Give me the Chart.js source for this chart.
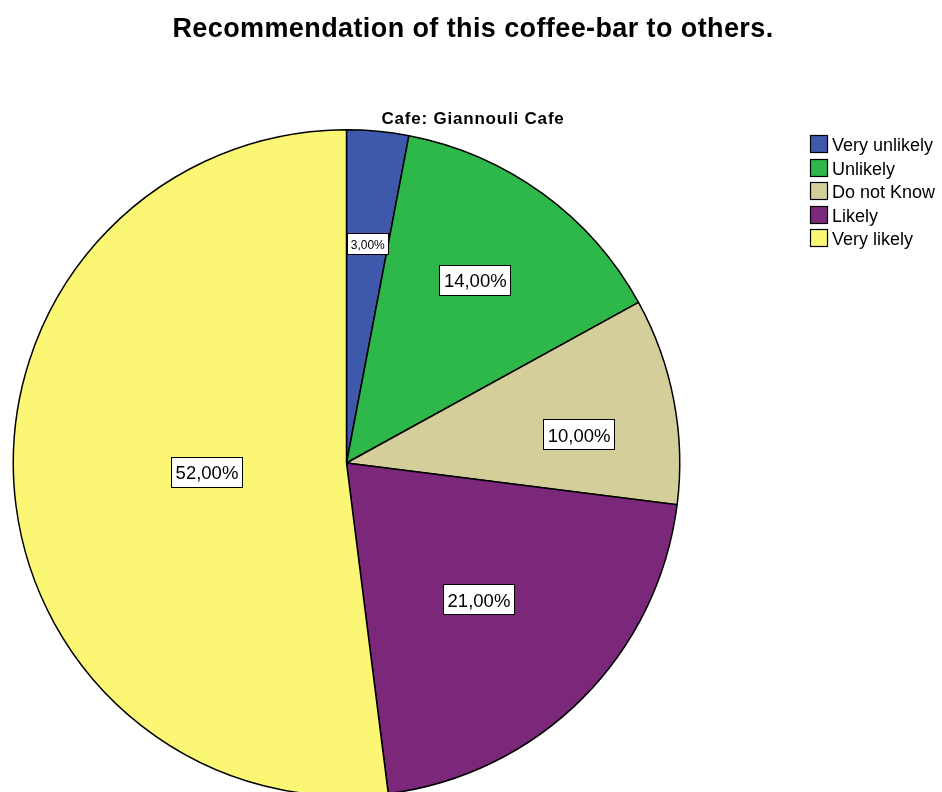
<!DOCTYPE html>
<html>
<head>
<meta charset="utf-8">
<script src="https://cdn.jsdelivr.net/npm/chart.js@4"></script>
<style>
  html, body { margin: 0; padding: 0; background: #ffffff; overflow: hidden; }
  #wrap { width: 942px; height: 800px; }
</style>
</head>
<body>
<div id="wrap"><canvas id="pieChart" width="942" height="800"></canvas></div>
<script>
// Veriler
const chartTitle = "Recommendation of this coffee-bar to others.";
const subTitle = "Cafe: Giannouli Cafe";
const categories = ["Very unlikely", "Unlikely", "Do not Know", "Likely", "Very likely"];
const percentages = [3, 14, 10, 21, 52];
const sliceColors = ["#3e58ac", "#2eb84a", "#d4cf9a", "#7b287b", "#fbf775"];

// etiket konumu: yarıçap oranı, açı kayması (derece), yazı boyu
const labelRadius = [0.662, 0.671, 0.702, 0.569, 0.421];
const labelShift = [0, -1, 3.7, 0.9, 0.1];
const labelFont = [12, 18.5, 18.5, 18.5, 18.5];

const FONT = "'Liberation Sans', Arial, sans-serif";

function formatPct(v) {
    return v.toFixed(2).replace(".", ",") + "%";
}

const textPlugin = {
    id: "textPlugin",
    afterDatasetsDraw(chart) {
        const ctx = chart.ctx;
        const meta = chart.getDatasetMeta(0);
        ctx.save();
        meta.data.forEach((arc, i) => {
            const p = arc.getProps(["x", "y", "startAngle", "endAngle", "outerRadius"], true);
            const mid = (p.startAngle + p.endAngle) / 2 + labelShift[i] * Math.PI / 180;
            const r = p.outerRadius * labelRadius[i];
            const cx = p.x + Math.cos(mid) * r;
            const cy = p.y + Math.sin(mid) * r;
            const txt = formatPct(percentages[i]);
            const fs = labelFont[i];
            ctx.font = fs + "px " + FONT;
            const w = Math.round(ctx.measureText(txt).width + (fs > 14 ? 8 : 7));
            const h = fs > 14 ? 30 : 21;
            const x0 = Math.round(cx - w / 2), y0 = Math.round(cy - h / 2);
            ctx.fillStyle = "#ffffff";
            ctx.fillRect(x0, y0, w, h);
            ctx.strokeStyle = "#000000";
            ctx.lineWidth = 1;
            ctx.strokeRect(x0 + 0.5, y0 + 0.5, w, h);
            ctx.fillStyle = "#000000";
            ctx.textAlign = "center";
            ctx.textBaseline = "alphabetic";
            ctx.fillText(txt, cx + 0.5, cy + 0.36 * fs + 1);
        });

        // başlıklar
        ctx.textAlign = "center";
        ctx.textBaseline = "alphabetic";
        ctx.fillStyle = "#000000";
        ctx.font = "bold 27px " + FONT;
        ctx.letterSpacing = "0.4px";
        ctx.fillText(chartTitle, 473, 37);
        ctx.font = "bold 17px " + FONT;
        ctx.letterSpacing = "0.8px";
        ctx.fillText(subTitle, 473, 124);
        ctx.letterSpacing = "0px";

        // lejant
        ctx.textAlign = "left";
        ctx.font = "18px " + FONT;
        categories.forEach((c, i) => {
            const y = 143 + i * 23.6;
            ctx.fillStyle = sliceColors[i];
            ctx.fillRect(810, Math.round(y - 8), 17, 17);
            ctx.strokeStyle = "#000000";
            ctx.lineWidth = 1.2;
            ctx.strokeRect(810.5, Math.round(y - 8) + 0.5, 17, 17);
            ctx.fillStyle = "#000000";
            ctx.fillText(c, 832, y + 8);
        });
        ctx.restore();
    }
};

new Chart(document.getElementById("pieChart"), {
    type: "pie",
    data: {
        labels: categories,
        datasets: [
            {
                data: percentages,
                backgroundColor: sliceColors,
                borderColor: "#000000",
                borderWidth: 1.5,
                borderAlign: "center",
            },
        ],
    },
    options: {
        responsive: false,
        animation: false,
        events: [],
        layout: { padding: { left: 12, top: 129, right: 261, bottom: 3 } },
        plugins: {
            legend: { display: false },
            title: { display: false },
            tooltip: { enabled: false },
        },
    },
    plugins: [textPlugin],
});
</script>
</body>
</html>
